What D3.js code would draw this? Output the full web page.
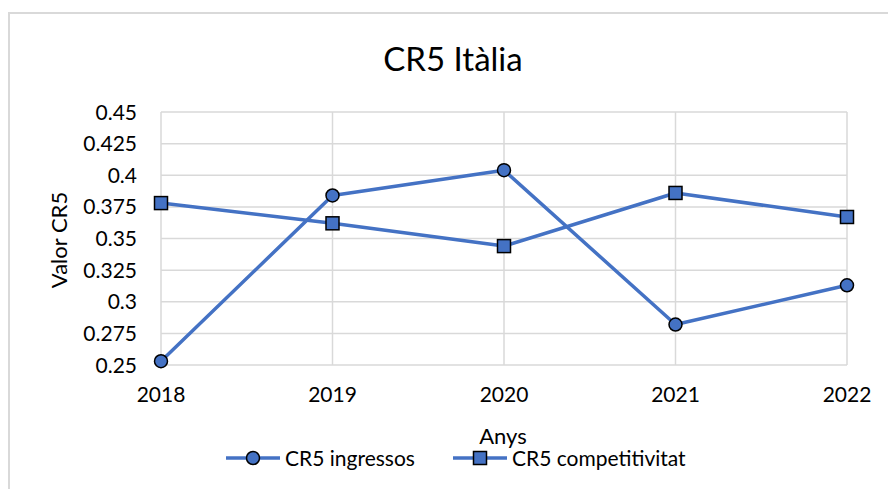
<!DOCTYPE html>
<html>
<head>
<meta charset="UTF-8">
<title>CR5 Itàlia</title>
<style>
  body { margin: 0; background: #fff; }
  svg { display: block; font-family: Lato, "Noto Sans", sans-serif; }
</style>
</head>
<body>
<script src="https://d3js.org/d3.v7.min.js"></script>
<script>
// data
var years = ["2018", "2019", "2020", "2021", "2022"];
var ingressos = [0.253, 0.384, 0.404, 0.282, 0.313];
var competitivitat = [0.378, 0.362, 0.344, 0.386, 0.367];
var yTicks = [0.25, 0.275, 0.3, 0.325, 0.35, 0.375, 0.4, 0.425, 0.45];
var seriesNames = ["CR5 ingressos", "CR5 competitivitat"];

var W = 888, H = 489;
var blue = "#4472C4", grid = "#d9d9d9";

var svg = d3.select("body").append("svg")
    .attr("width", W)
    .attr("height", H);

// chart frame
svg.append("rect")
    .attr("x", 9).attr("y", 13)
    .attr("width", W + 10).attr("height", H + 10)
    .attr("fill", "none")
    .attr("stroke", grid)
    .attr("stroke-width", 2);

var x = d3.scalePoint().domain(years).range([161, 847]);
var y = d3.scaleLinear().domain([0.25, 0.45]).range([365, 112]);

// horizontal gridlines
svg.append("g")
    .selectAll("line")
    .data(yTicks)
    .enter().append("line")
    .attr("x1", x("2018")).attr("x2", x("2022"))
    .attr("y1", d => y(d)).attr("y2", d => y(d))
    .attr("stroke", grid).attr("stroke-width", 1.5);

// vertical gridlines
svg.append("g")
    .selectAll("line")
    .data(years)
    .enter().append("line")
    .attr("x1", d => x(d)).attr("x2", d => x(d))
    .attr("y1", y(0.45)).attr("y2", y(0.25))
    .attr("stroke", grid).attr("stroke-width", 1.5);

// y tick labels
svg.append("g")
    .attr("font-size", 21)
    .attr("text-anchor", "end")
    .attr("fill", "#000")
    .selectAll("text")
    .data(yTicks)
    .enter().append("text")
    .attr("x", 137)
    .attr("y", d => y(d))
    .attr("dy", "0.36em")
    .text(d => d3.format("")(d));

// x tick labels
svg.append("g")
    .attr("font-size", 21)
    .attr("text-anchor", "middle")
    .selectAll("text")
    .data(years)
    .enter().append("text")
    .attr("x", d => x(d))
    .attr("y", 402)
    .text(d => d);

// title and axis titles
svg.append("text")
    .attr("x", 453).attr("y", 71)
    .attr("text-anchor", "middle")
    .attr("font-size", 33)
    .text("CR5 Itàlia");

svg.append("text")
    .attr("transform", "translate(67,240) rotate(-90)")
    .attr("text-anchor", "middle")
    .attr("font-size", 22)
    .text("Valor CR5");

svg.append("text")
    .attr("x", 503).attr("y", 444)
    .attr("text-anchor", "middle")
    .attr("font-size", 22)
    .text("Anys");

var line = d3.line()
    .x((d, i) => x(years[i]))
    .y(d => y(d));

function drawSeries(vals, shape) {
    svg.append("path")
        .datum(vals)
        .attr("d", line)
        .attr("fill", "none")
        .attr("stroke", blue)
        .attr("stroke-width", 3.5)
        .attr("stroke-linejoin", "round");
    var g = svg.append("g");
    vals.forEach(function(v, i) {
        drawMarker(g, x(years[i]), y(v), shape);
    });
}

function drawMarker(g, cx, cy, shape) {
    if (shape === "circle") {
        g.append("circle")
            .attr("cx", cx).attr("cy", cy).attr("r", 6.5)
            .attr("fill", blue).attr("stroke", "#000").attr("stroke-width", 1.5);
    } else {
        g.append("rect")
            .attr("x", cx - 6.5).attr("y", cy - 6.5)
            .attr("width", 13).attr("height", 13)
            .attr("fill", blue).attr("stroke", "#000").attr("stroke-width", 1.5);
    }
}

drawSeries(ingressos, "circle");
drawSeries(competitivitat, "square");

// legend
var legend = [
    { name: seriesNames[0], shape: "circle", x0: 226 },
    { name: seriesNames[1], shape: "square", x0: 453 }
];
var lg = svg.append("g");
legend.forEach(function(d) {
    lg.append("line")
        .attr("x1", d.x0).attr("x2", d.x0 + 54)
        .attr("y1", 458).attr("y2", 458)
        .attr("stroke", blue).attr("stroke-width", 3.5);
    drawMarker(lg, d.x0 + 27, 458, d.shape);
    lg.append("text")
        .attr("x", d.x0 + 59).attr("y", 458)
        .attr("dy", "0.36em")
        .attr("font-size", 21)
        .text(d.name);
});
</script>
</body>
</html>
